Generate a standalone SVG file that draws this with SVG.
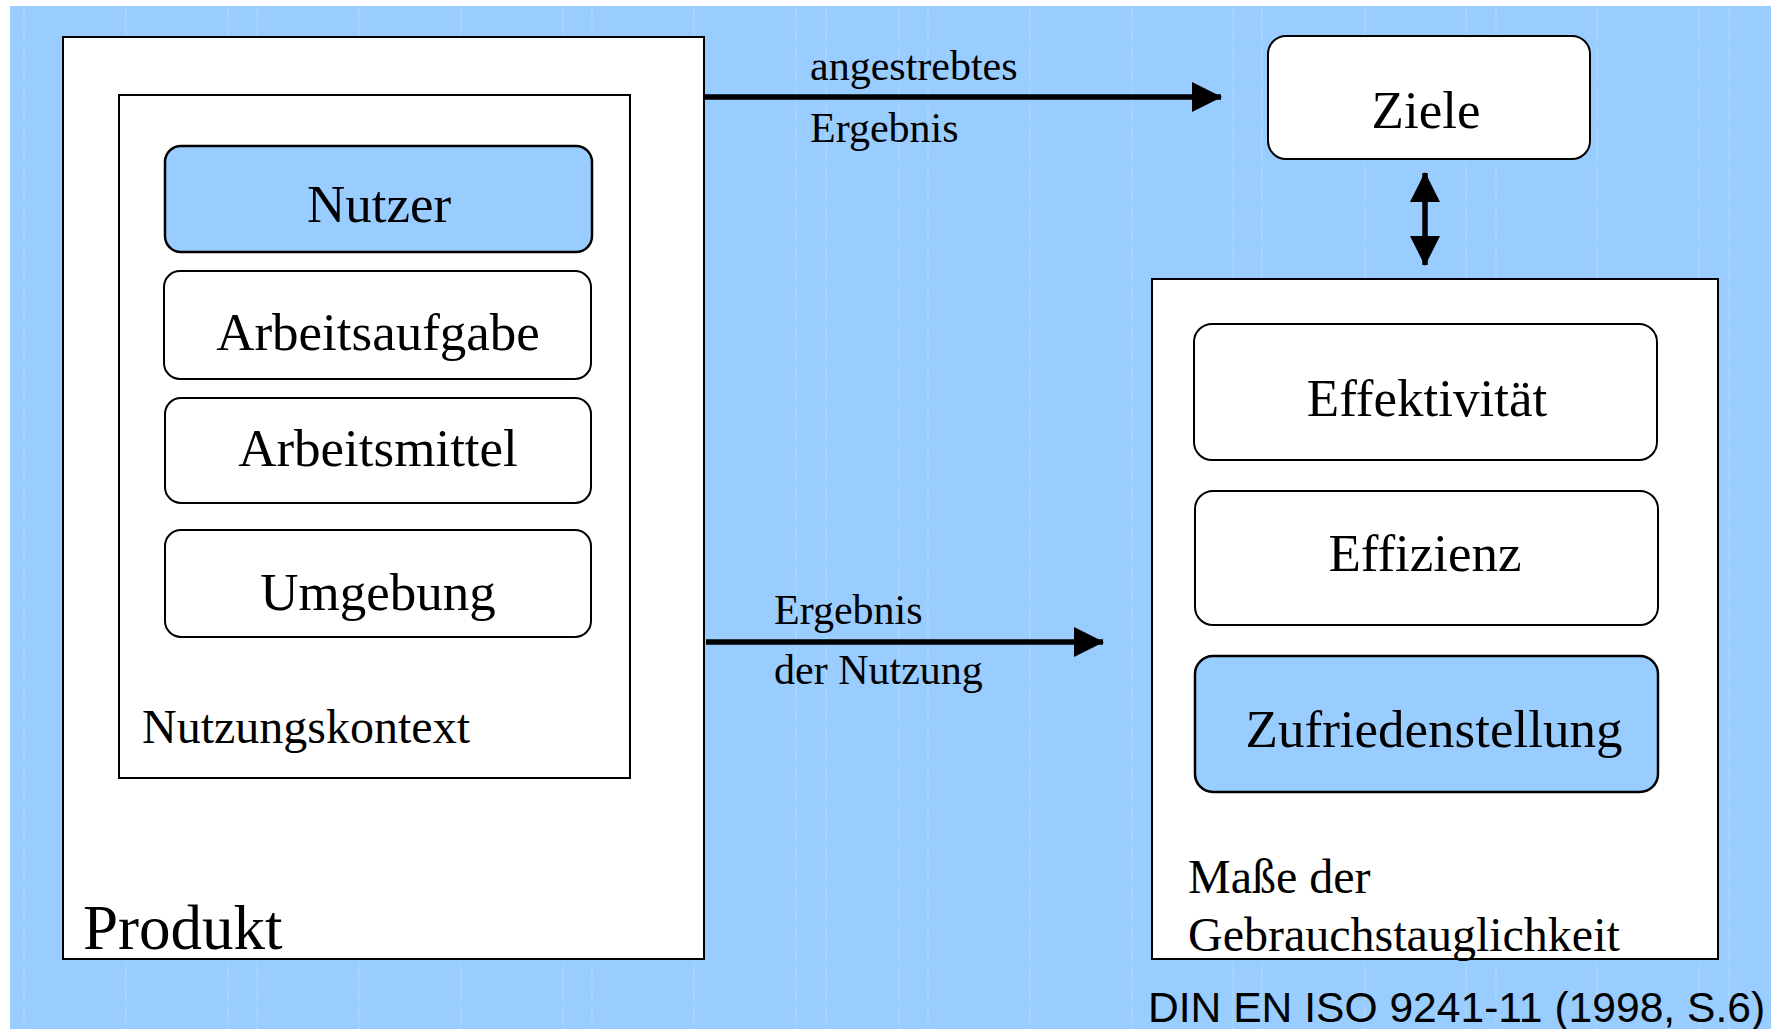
<svg xmlns="http://www.w3.org/2000/svg" width="1771" height="1029" viewBox="0 0 1771 1029">
<defs>
<style>
.bg{fill:#99CCFF}
.grid{stroke:#B5DBFF;stroke-width:1;stroke-dasharray:14 2 2 2}
.frame{fill:#FFFFFF;stroke:#000;stroke-width:2}
.box{fill:#FFFFFF;stroke:#000;stroke-width:2}
.hl{fill:#99CCFF;stroke:#000;stroke-width:2.5}
.t{font-family:"Liberation Serif","Times New Roman",serif;fill:#000}
.big{font-size:53px;text-anchor:middle}
.lbl{font-size:48px}
.edge{font-size:42px}
.cite{font-family:"Liberation Sans",Arial,sans-serif;font-size:42.6px;fill:#000}
.conn{stroke:#000;stroke-width:5.5;fill:none}
</style>
<marker id="ah" viewBox="0 0 30 30" refX="29" refY="15" markerWidth="30" markerHeight="30" markerUnits="userSpaceOnUse" orient="auto-start-reverse">
<path d="M0,0 L30,15 L0,30 Z" fill="#000"/>
</marker>
</defs>
<rect x="0" y="0" width="1771" height="1029" fill="#FFFFFF"/>
<rect class="bg" x="10" y="6" width="1761" height="1023"/>
<g id="grid">
<path class="grid" d="M24,6V1029M126,6V1029M228,6V1029M257,6V1029M359,6V1029M461,6V1029M563,6V1029M592,6V1029M694,6V1029M796,6V1029M826,6V1029M899,6V1029M928,6V1029M1030,6V1029M1132,6V1029M1233,6V1029M1262,6V1029M1365,6V1029M1466,6V1029M1496,6V1029M1597,6V1029M1699,6V1029M1729,6V1029"/>
</g>
<g id="produkt">
<rect class="frame" x="63" y="37" width="641" height="922"/>
<text class="t" x="83" y="949" font-size="63">Produkt</text>
</g>
<g id="nutzungskontext">
<rect class="frame" x="119" y="95" width="511" height="683"/>
<text class="t lbl" x="142" y="743">Nutzungskontext</text>
</g>
<g id="nutzer">
<rect class="hl" x="165" y="146" width="427" height="106" rx="16"/>
<text class="t big" x="379" y="222">Nutzer</text>
</g>
<g id="arbeitsaufgabe">
<rect class="box" x="164" y="271" width="427" height="108" rx="16"/>
<text class="t big" x="378" y="350">Arbeitsaufgabe</text>
</g>
<g id="arbeitsmittel">
<rect class="box" x="165" y="398" width="426" height="105" rx="16"/>
<text class="t big" x="378" y="466">Arbeitsmittel</text>
</g>
<g id="umgebung">
<rect class="box" x="165" y="530" width="426" height="107" rx="16"/>
<text class="t big" x="378" y="610">Umgebung</text>
</g>
<g id="ziele">
<rect class="box" x="1268" y="36" width="322" height="123" rx="18"/>
<text class="t big" x="1426" y="128">Ziele</text>
</g>
<g id="masse">
<rect class="frame" x="1152" y="279" width="566" height="680"/>
<text class="t lbl" x="1188" y="893">Maße der</text>
<text class="t lbl" x="1188" y="951">Gebrauchstauglichkeit</text>
</g>
<g id="effektivitaet">
<rect class="box" x="1194" y="324" width="463" height="136" rx="18"/>
<text class="t big" x="1427" y="416">Effektivität</text>
</g>
<g id="effizienz">
<rect class="box" x="1195" y="491" width="463" height="134" rx="18"/>
<text class="t big" x="1425" y="571">Effizienz</text>
</g>
<g id="zufriedenstellung">
<rect class="hl" x="1195" y="656" width="463" height="136" rx="18" stroke-width="3"/>
<text class="t big" x="1434" y="747">Zufriedenstellung</text>
</g>
<g id="connectors">
<line class="conn" x1="704" y1="97" x2="1221" y2="97" marker-end="url(#ah)"/>
<text class="t edge" x="810" y="80">angestrebtes</text>
<text class="t edge" x="810" y="142">Ergebnis</text>
<line class="conn" x1="706" y1="642" x2="1103" y2="642" marker-end="url(#ah)"/>
<text class="t edge" x="774" y="624">Ergebnis</text>
<text class="t edge" x="774" y="684">der Nutzung</text>
<line class="conn" x1="1425" y1="173" x2="1425" y2="265" marker-start="url(#ah)" marker-end="url(#ah)"/>
</g>
<text class="cite" x="1148" y="1022">DIN EN ISO 9241-11 (1998, S.6)</text>
</svg>
